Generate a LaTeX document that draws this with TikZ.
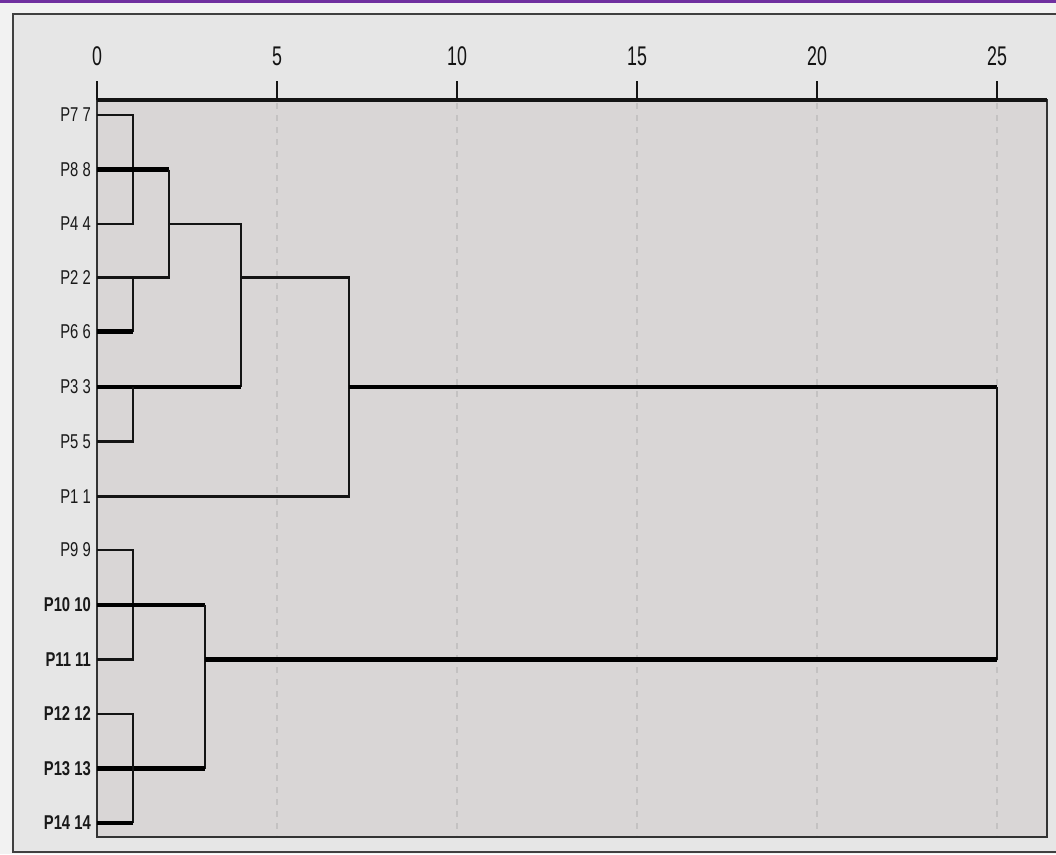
\documentclass[tikz,border=0pt]{standalone}
\usepackage{fontspec}
\newfontfamily\labfont[FakeStretch=0.74]{Liberation Sans}
\newfontfamily\tickfont[FakeStretch=0.66]{Liberation Sans}
\definecolor{outerbg}{HTML}{E6E6E6}
\definecolor{pagebg}{HTML}{F2F2F2}
\definecolor{plotbg}{HTML}{D9D6D6}
\definecolor{gridc}{HTML}{C4C2C2}
\definecolor{topbar}{HTML}{7030A0}
\definecolor{ink}{HTML}{141414}
\tikzset{
  frameline/.style={draw=black!75, line width=2.4pt},
  boxline/.style={draw=black!80, line width=2pt},
  axisline/.style={draw=ink, line width=3.6pt},
  tickline/.style={draw=ink, line width=2.4pt},
  gridline/.style={draw=gridc, line width=1.4pt, dash pattern=on 6pt off 6pt},
  br/.style={draw=ink, line width=2.6pt},
  brt/.style={draw=black, line width=4.4pt},
  leaflab/.style={font=\labfont\fontsize{20}{21}\selectfont, text=black!90, anchor=east, inner sep=0pt},
  leafbold/.style={leaflab, font=\labfont\bfseries\fontsize{20}{21}\selectfont},
  ticklab/.style={font=\tickfont\fontsize{27}{29}\selectfont, text=ink, inner sep=0pt}
}
\begin{document}
\begin{tikzpicture}[x=1pt,y=-1pt]
\useasboundingbox (0,0) rectangle (1056,854);
\fill[pagebg] (0,0) rectangle (1056,854);
\fill[outerbg] (13,14) rectangle (1056,852);
\fill[topbar] (0,0) rectangle (1056,2.5);
\draw[frameline] (1056,14) -- (13,14) -- (13,852) -- (1056,852);
% plot box
\fill[plotbg] (97,100) rectangle (1047,837);
\draw[boxline] (97,100) rectangle (1047,837);
% grid
\foreach \v in {5,10,15,20,25} {
  \draw[gridline] ({97+36*\v},103) -- ({97+36*\v},835);
}
% axis
\draw[axisline] (97,100) -- (1047,100);
\foreach \v in {0,5,10,15,20,25} {
  \draw[tickline] ({97+36*\v},81) -- ({97+36*\v},100);
  \node[ticklab] (t\v) at ({97+36*\v},56) {\v};
}
% leaves: labels and anchor points
\foreach \n/\lab/\y in {7/P7 7/115, 8/P8 8/169.5, 4/P4 4/224, 2/P2 2/277.5, 6/P6 6/331.5, 3/P3 3/387, 5/P5 5/441.5, 1/P1 1/496.5, 9/P9 9/550}{
  \node[leaflab] (n\n) at (91,\y) {\lab};
  \coordinate (l\n) at (97,\y);
}
\foreach \n/\lab/\y in {10/P10 10/605, 11/P11 11/659.5, 12/P12 12/714, 13/P13 13/768.5, 14/P14 14/823}{
  \node[leafbold] (n\n) at (91,\y) {\lab};
  \coordinate (l\n) at (97,\y);
}
% junction coordinates
\coordinate (a74) at (133,224);
\coordinate (a26) at (133,331.5);
\coordinate (a35) at (133,441.5);
\coordinate (b8) at (169,277.5);
\coordinate (c1) at (169,224);
\coordinate (c2) at (241,387);
\coordinate (d1) at (241,277.5);
\coordinate (d2) at (349,496.5);
\coordinate (e1) at (349,387);
\coordinate (e2) at (997,659.5);
\coordinate (f911) at (133,659.5);
\coordinate (f1214) at (133,823);
\coordinate (g1) at (205,768.5);
\coordinate (g0) at (205,659.5);
% upper cluster
\draw[br] (l7) -| (a74) -- (l4);
\draw[br] (l2) -| (a26);
\draw[brt] (l6) -- (a26);
\draw[brt] (l8) -- (169,169.5);
\draw[br] (169,169.5) -- (b8) -- (l2);
\draw[br] (c1) -| (c2);
\draw[brt] (l3) -- (c2);
\draw[br] (133,387) -- (a35) -- (l5);
\draw[br] (d1) -| (d2) -- (l1);
\draw[brt] (e1) -- (997,387);
\draw[br] (997,387) -- (e2);
% lower cluster
\draw[br] (l9) -| (f911) -- (l11);
\draw[brt] (l10) -- (205,605);
\draw[br] (205,605) -- (g1);
\draw[brt] (l13) -- (g1);
\draw[br] (l12) -| (f1214);
\draw[brt] (f1214) -- (l14);
\draw[brt] (g0) -- (e2);
\end{tikzpicture}
\end{document}
